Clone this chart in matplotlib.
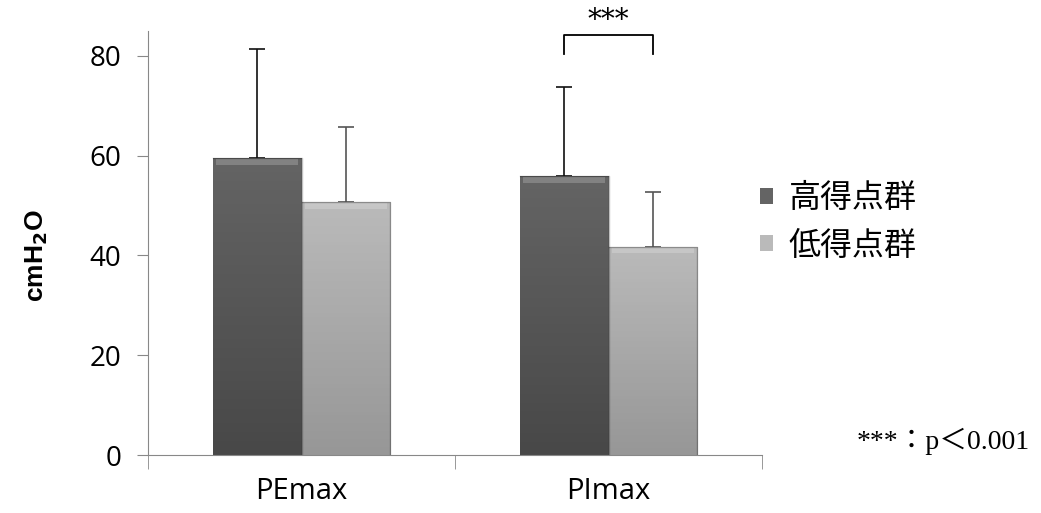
import numpy as np
import matplotlib.pyplot as plt
from matplotlib.colors import LinearSegmentedColormap

categories = ["PEmax", "PImax"]
groups = ["高得点群", "低得点群"]
high_mean = [59.5, 55.9]
high_sd = [21.9, 17.8]
low_mean = [50.7, 41.7]
low_sd = [15.0, 11.0]

plt.rcParams["font.family"] = ["Open Sans", "Noto Sans CJK JP", "DejaVu Sans"]

fig = plt.figure(figsize=(10.41, 5.13), dpi=100)
ax = fig.add_axes([148 / 1041, 58 / 513, 614 / 1041, 424 / 513])

x = np.arange(len(categories))
width = 0.287
offsets = [-width / 2, width / 2]

# bar shading: lighter at the top, darker at the base
shades = [("#646464", "#484848"), ("#bababa", "#979797")]
err_colors = ["#111111", "#555555"]

for means, sds, off, (top, bottom), ecol, name in zip(
        [high_mean, low_mean], [high_sd, low_sd], offsets, shades, err_colors, groups):
    bars = ax.bar(x + off, means, width, color=top, edgecolor="none", label=name, zorder=2)
    cmap = LinearSegmentedColormap.from_list("g", [bottom, top])
    for b in bars:
        x0, w, h = b.get_x(), b.get_width(), b.get_height()
        grad = np.linspace(0, 1, 64).reshape(-1, 1)
        im = ax.imshow(grad, cmap=cmap, extent=[x0, x0 + w, 0, h], origin="lower",
                       aspect="auto", zorder=2.1)
        im.set_clip_path(b)
        # bevel strip on top
        ax.fill_between([x0 + 0.01, x0 + w - 0.01], h - 1.3, h - 0.2,
                        color="white", alpha=0.2, lw=0, zorder=2.2)
        ax.plot([x0, x0 + w, x0 + w], [h, h, 0], color="black", alpha=0.25, lw=1, zorder=2.3)
    ax.errorbar(x + off, means, yerr=[np.zeros(len(sds)), sds], fmt="none",
                ecolor=ecol, elinewidth=1.2, capsize=6, capthick=1.2, zorder=1.5)

ax.set_xlim(-0.5, 1.5)
ax.set_ylim(0, 85)
ax.set_yticks([0, 20, 40, 60, 80])
ax.set_xticks(x)
ax.set_xticklabels(categories, fontsize=21)
ax.set_xticks([-0.5, 0.5, 1.5], minor=True)
ax.tick_params(axis="x", which="major", length=0, pad=16)
ax.tick_params(axis="x", which="minor", length=10, color="#888888")
ax.tick_params(axis="y", length=8, color="#888888", labelsize=20, pad=11)
for s in ["top", "right"]:
    ax.spines[s].set_visible(False)
ax.spines["left"].set_color("#888888")
ax.spines["bottom"].set_color("#888888")

ax.set_ylabel("cmH$_\\mathbf{2}$O", fontsize=19, fontweight="bold",
              family="Liberation Sans")
ax.yaxis.set_label_coords(-0.16, 0.47)

# significance bracket over PImax
bx0, bx1 = x[1] + offsets[0], x[1] + offsets[1]
ax.plot([bx0, bx0, bx1, bx1], [80.4, 84.2, 84.2, 80.4], color="black", lw=1.3,
        clip_on=False)
ax.text((bx0 + bx1) / 2, 84.3, "***", ha="center", va="bottom", fontsize=20,
        family="DejaVu Serif")

leg = ax.legend(loc="center left", bbox_to_anchor=(0.95, 0.548), frameon=False,
                fontsize=23, handlelength=0.4, handleheight=0.4, handletextpad=0.5,
                labelspacing=0.45)

fig.text(0.823, 0.125, "***：p＜0.001", fontsize=20,
         family=["Liberation Serif", "Noto Sans CJK JP"])

fig.savefig("out.png", dpi=100)
